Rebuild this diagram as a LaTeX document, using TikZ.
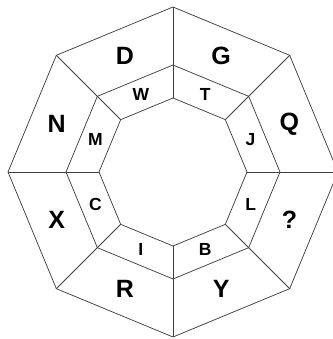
\documentclass[tikz,border=0pt]{standalone}
\usepackage{fontspec}
\setsansfont{Liberation Sans}
\usetikzlibrary{positioning}
\tikzset{
  ring/.style={draw=black!75,line width=0.75pt},
  outerlabel/.style={font=\sffamily\bfseries\fontsize{25}{25}\selectfont,inner sep=0pt},
  innerlabel/.style={font=\sffamily\bfseries\fontsize{17.5}{17.5}\selectfont,inner sep=0pt}
}
\begin{document}
\begin{tikzpicture}[x=1pt,y=1pt]
  \useasboundingbox (-173,-167) rectangle (159,172); % 画像の余白
  \draw[ring] (0:165) \foreach \a in {45,90,...,315} { -- (\a:165) } -- cycle; % 外側の八角形
  \draw[ring] (0:107) \foreach \a in {45,90,...,315} { -- (\a:107) } -- cycle; % 中間の八角形
  \draw[ring] (0:74) \foreach \a in {45,90,...,315} { -- (\a:74) } -- cycle; % 内側の八角形
  \foreach \a in {0,45,...,315}
    \draw[ring] (\a:74) -- (\a:165); % 頂点を結ぶ放射状の線
  % 外側の輪の文字
  \node[outerlabel] (G) at (67.5:126) {G};
  \node[outerlabel] (Q) at (22.5:126) {Q};
  \node[outerlabel] (qmark) at (-22.5:126) {?};
  \node[outerlabel] (Y) at (-67.5:126) {Y};
  \node[outerlabel] (R) at (-112.5:126) {R};
  \node[outerlabel] (X) at (-157.5:126) {X};
  \node[outerlabel] (N) at (157.5:126) {N};
  \node[outerlabel] (D) at (112.5:126) {D};
  % 内側の輪の文字
  \node[innerlabel] (T) at (67.5:84) {T};
  \node[innerlabel] (J) at (22.5:84) {J};
  \node[innerlabel] (L) at (-22.5:84) {L};
  \node[innerlabel] (B) at (-67.5:84) {B};
  \node[innerlabel] (I) at (-112.5:84) {I};
  \node[innerlabel] (C) at (-157.5:84) {C};
  \node[innerlabel] (M) at (157.5:84) {M};
  \node[innerlabel] (W) at (112.5:84) {W};
\end{tikzpicture}
\end{document}
